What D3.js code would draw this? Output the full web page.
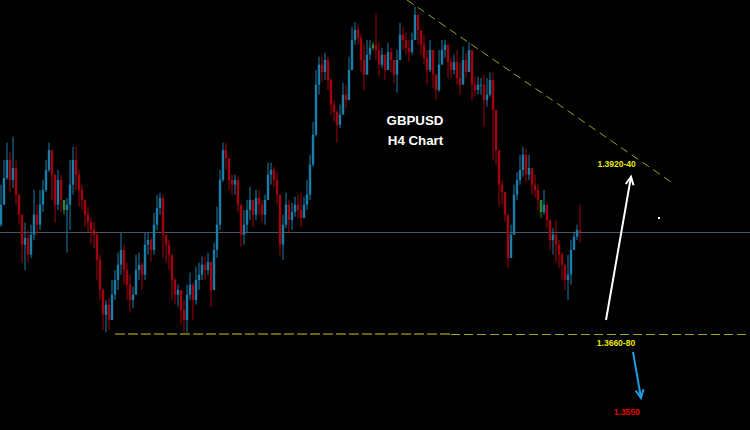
<!DOCTYPE html>
<html>
<head>
<meta charset="utf-8">
<script src="https://cdn.jsdelivr.net/npm/d3@7"></script>
<style>
  html, body { margin: 0; padding: 0; background: #000; }
  svg { display: block; }
</style>
</head>
<body>
<div id="chart"></div>
<script>
// ---- Data (GBPUSD H4) ----
const symbol = "GBPUSD";
const timeframeLabel = "H4 Chart";
const firstOpen = 1.3834;
const closes = [
  1.3864,1.3904,1.3931,1.3901,1.3919,1.3879,1.3849,1.3804,1.3814,1.3789,
  1.3819,1.3849,1.3834,1.3864,1.3886,1.3916,1.3946,1.3909,1.3864,1.3901,
  1.3871,1.3856,1.3864,1.3894,1.3931,1.3909,1.3886,1.3871,1.3849,1.3838,
  1.3826,1.3819,1.3781,1.3736,1.3699,1.3714,1.3691,1.3729,1.3751,1.3774,
  1.3796,1.3766,1.3744,1.3721,1.3729,1.3766,1.3774,1.3759,1.3804,1.3811,
  1.3796,1.3834,1.3859,1.3874,1.3819,1.3804,1.3789,1.3751,1.3729,1.3736,
  1.3706,1.3691,1.3729,1.3744,1.3721,1.3751,1.3759,1.3774,1.3766,1.3778,
  1.3736,1.3796,1.3834,1.3901,1.3946,1.3934,1.3901,1.3894,1.3901,1.3864,
  1.3819,1.3834,1.3856,1.3871,1.3849,1.3874,1.3864,1.3849,1.3871,1.3909,
  1.3916,1.3901,1.3879,1.3804,1.3834,1.3864,1.3841,1.3853,1.3864,1.3856,
  1.3844,1.3864,1.3879,1.3924,1.3969,1.4044,1.4074,1.4063,1.4081,1.4051,
  1.4014,1.4003,1.3984,1.3999,1.4029,1.4021,1.4066,1.4111,1.4126,1.4114,
  1.4081,1.4059,1.4089,1.4099,1.4104,1.4096,1.4074,1.4089,1.4066,1.4093,
  1.4081,1.4059,1.4081,1.4119,1.4111,1.4099,1.4093,1.4111,1.4149,1.4126,
  1.4104,1.4084,1.4066,1.4096,1.4059,1.4036,1.4074,1.4096,1.4104,1.4078,
  1.4066,1.4078,1.4054,1.4044,1.4081,1.4063,1.4096,1.4044,1.4036,1.4044,
  1.4044,1.4021,1.4029,1.4051,1.4006,1.3946,1.3894,1.3883,1.3849,1.3784,
  1.3819,1.3879,1.3901,1.3916,1.3939,1.3909,1.3919,1.3894,1.3886,1.3871,
  1.3853,1.3864,1.3841,1.3811,1.3819,1.3804,1.3789,1.3774,1.3751,1.3759,
  1.3796,1.3816,1.3826,1.3823
];
const highs = [
  1.3894,1.3931,1.3957,1.3943,1.3966,1.3931,1.3879,1.3849,1.3837,1.3826,
  1.3834,1.3886,1.3864,1.3886,1.3901,1.3931,1.3957,1.3946,1.3897,1.3916,
  1.3909,1.3864,1.3874,1.3931,1.3951,1.3951,1.3916,1.3894,1.3871,1.3861,
  1.3844,1.3838,1.3822,1.3789,1.3739,1.3721,1.3724,1.3751,1.3766,1.3792,
  1.3822,1.3804,1.3777,1.3759,1.3741,1.3789,1.3792,1.3777,1.3822,1.3822,
  1.3814,1.3852,1.3879,1.3882,1.3879,1.3819,1.3811,1.3777,1.3754,1.3744,
  1.3729,1.3721,1.3744,1.3762,1.3747,1.3771,1.3777,1.3786,1.3786,1.3792,
  1.3766,1.3807,1.3861,1.3916,1.3957,1.3957,1.3931,1.3909,1.3909,1.3906,
  1.3852,1.3856,1.3871,1.3891,1.3871,1.3886,1.3886,1.3871,1.3879,1.3927,
  1.3927,1.3921,1.3912,1.3871,1.3849,1.3882,1.3871,1.3867,1.3876,1.3879,
  1.3882,1.3876,1.3901,1.3939,1.3988,1.4066,1.4086,1.4086,1.4092,1.4086,
  1.4054,1.4021,1.4006,1.4014,1.4047,1.4044,1.4086,1.4131,1.4138,1.4134,
  1.4119,1.4104,1.4111,1.4111,1.4108,1.4152,1.4107,1.4099,1.4086,1.4107,
  1.4099,1.4078,1.4096,1.4137,1.4131,1.4122,1.4111,1.4122,1.4161,1.4144,
  1.4126,1.4119,1.4096,1.4111,1.4096,1.4051,1.4096,1.4111,1.4111,1.4099,
  1.4084,1.4089,1.4096,1.4077,1.4101,1.4092,1.4108,1.4074,1.4056,1.4056,
  1.4054,1.4059,1.4054,1.4062,1.4062,1.3961,1.3924,1.3901,1.3882,1.3814,
  1.3834,1.3894,1.3913,1.3939,1.3951,1.3949,1.3939,1.3916,1.3909,1.3894,
  1.3864,1.3886,1.3856,1.3834,1.3829,1.3841,1.3811,1.3793,1.3766,1.3789,
  1.3811,1.3823,1.3834,1.3864
];
const lows = [
  1.3831,1.3871,1.3901,1.3883,1.3889,1.3864,1.3834,1.3777,1.3766,1.3778,
  1.3784,1.3811,1.3819,1.3826,1.3853,1.3883,1.3913,1.3871,1.3837,1.3856,
  1.3853,1.3849,1.3792,1.3826,1.3879,1.3886,1.3861,1.3856,1.3831,1.3823,
  1.3804,1.3799,1.3751,1.3721,1.3676,1.3672,1.3676,1.3694,1.3721,1.3736,
  1.3759,1.3744,1.3721,1.3702,1.3709,1.3736,1.3751,1.3736,1.3751,1.3789,
  1.3778,1.3789,1.3826,1.3849,1.3784,1.3778,1.3766,1.3721,1.3714,1.3711,
  1.3684,1.3670,1.3672,1.3721,1.3691,1.3714,1.3736,1.3751,1.3751,1.3759,
  1.3711,1.3751,1.3784,1.3826,1.3898,1.3916,1.3886,1.3879,1.3879,1.3852,
  1.3801,1.3804,1.3822,1.3841,1.3831,1.3841,1.3849,1.3838,1.3834,1.3871,
  1.3894,1.3891,1.3864,1.3786,1.3781,1.3829,1.3822,1.3826,1.3846,1.3844,
  1.3831,1.3849,1.3856,1.3871,1.3921,1.3966,1.4029,1.4048,1.4051,1.4036,
  1.3999,1.3988,1.3957,1.3979,1.4006,1.4009,1.4029,1.4081,1.4104,1.4104,
  1.4063,1.4036,1.4066,1.4081,1.4096,1.4081,1.4056,1.4069,1.4051,1.4071,
  1.4062,1.4044,1.4032,1.4089,1.4096,1.4089,1.4078,1.4089,1.4119,1.4104,
  1.4089,1.4074,1.4044,1.4063,1.4039,1.4021,1.4033,1.4074,1.4084,1.4054,
  1.4054,1.4059,1.4044,1.4029,1.4063,1.4054,1.4069,1.4021,1.4026,1.4029,
  1.4029,1.3981,1.4011,1.4026,1.3931,1.3924,1.3861,1.3864,1.3838,1.3769,
  1.3796,1.3849,1.3871,1.3894,1.3906,1.3898,1.3901,1.3879,1.3874,1.3856,
  1.3844,1.3849,1.3829,1.3796,1.3789,1.3778,1.3769,1.3751,1.3736,1.3721,
  1.3744,1.3796,1.3811,1.3808
];
const dojiBars = [21, 124, 180];

// Annotation levels (index = bar position, p = price)
const supportLevel = 1.3670;
const supportStart = 38, supportSplit = 150, supportEnd = 250;
const trendline = [{i: 135.33, p: 1.4171}, {i: 223.67, p: 1.3897}];
const upArrow = [{i: 201.67, p: 1.3691}, {i: 210.0, p: 1.3906}];
const downArrow = [{i: 210.67, p: 1.3643}, {i: 213.33, p: 1.3574}];
const marker = {i: 219.33, p: 1.3844};
const labels = [
  {text: "1.3920-40", i: 205.2, p: 1.3920, color: "#e8e800"},
  {text: "1.3660-80", i: 205.0, p: 1.3652, color: "#e8e800"},
  {text: "1.3550",    i: 208.6, p: 1.3548, color: "#e80000"}
];

// ---- Chart ----
const W = 750, H = 430;
const svg = d3.select("#chart").append("svg").attr("width", W).attr("height", H)
  .style("background", "#000");
svg.append("rect").attr("width", W).attr("height", H).attr("fill", "#000");

const x = d3.scaleLinear().domain([0, 250]).range([1, 751]);
const y = d3.scaleLinear().domain([1.3526, 1.4171]).range([430, 0]);

const bars = closes.map((c, i) => {
  const o = i === 0 ? firstOpen : closes[i - 1];
  return {
    i, o, c,
    h: Math.max(highs[i], o, c),
    l: Math.min(lows[i], o, c),
    doji: dojiBars.includes(i)
  };
});
const UP = "#1a7ea9", DOWN = "#a4000e", DOJI = "#2a8c2a";
const col = d => d.doji ? DOJI : (d.c >= d.o ? UP : DOWN);

// current price line
svg.append("line")
  .attr("x1", 0).attr("x2", W)
  .attr("y1", Math.round(y(closes[closes.length - 1])) + 0.5)
  .attr("y2", Math.round(y(closes[closes.length - 1])) + 0.5)
  .attr("stroke", "#4a5562").attr("stroke-width", 1);

const g = svg.append("g");
g.selectAll("line.wick").data(bars).join("line")
  .attr("class", "wick")
  .attr("x1", d => x(d.i)).attr("x2", d => x(d.i))
  .attr("y1", d => y(d.h)).attr("y2", d => y(d.l))
  .attr("stroke", col).attr("stroke-width", 1);
g.selectAll("rect.body").data(bars).join("rect")
  .attr("class", "body")
  .attr("x", d => x(d.i) - 1.2).attr("width", 2.4)
  .attr("y", d => y(Math.max(d.o, d.c)))
  .attr("height", d => Math.max(1, Math.abs(y(d.o) - y(d.c))))
  .attr("fill", col);

// support dashed line
svg.append("line")
  .attr("x1", x(supportStart)).attr("x2", x(supportSplit))
  .attr("y1", y(supportLevel)).attr("y2", y(supportLevel))
  .attr("stroke", "#66660f").attr("stroke-width", 2).attr("stroke-dasharray", "10,3");
svg.append("line")
  .attr("x1", x(supportSplit)).attr("x2", x(supportEnd))
  .attr("y1", Math.round(y(supportLevel)) + 0.5).attr("y2", Math.round(y(supportLevel)) + 0.5)
  .attr("stroke", "#a4a42a").attr("stroke-width", 1).attr("stroke-dasharray", "9,4");

// trendline
svg.append("line")
  .attr("x1", x(trendline[0].i)).attr("y1", y(trendline[0].p))
  .attr("x2", x(trendline[1].i)).attr("y2", y(trendline[1].p))
  .attr("stroke", "#a0a020").attr("stroke-width", 1).attr("stroke-dasharray", "8,5");

// arrows
function arrow(pts, color) {
  const x1 = x(pts[0].i), y1 = y(pts[0].p), x2 = x(pts[1].i), y2 = y(pts[1].p);
  const ang = Math.atan2(y2 - y1, x2 - x1);
  const L = 9, spread = 0.45;
  svg.append("line").attr("x1", x1).attr("y1", y1).attr("x2", x2).attr("y2", y2)
    .attr("stroke", color).attr("stroke-width", 2);
  const p1 = [x2 - L * Math.cos(ang - spread), y2 - L * Math.sin(ang - spread)];
  const p2 = [x2 - L * Math.cos(ang + spread), y2 - L * Math.sin(ang + spread)];
  svg.append("path")
    .attr("d", `M${p1[0]},${p1[1]} L${x2},${y2} L${p2[0]},${p2[1]}`)
    .attr("fill", "none").attr("stroke", color).attr("stroke-width", 2)
    .attr("stroke-linejoin", "miter");
}
arrow(upArrow, "#ffffff");
arrow(downArrow, "#1e9ee0");

// small marker
svg.append("rect").attr("x", x(marker.i) - 1).attr("y", y(marker.p) - 1)
  .attr("width", 2).attr("height", 2).attr("fill", "#fff");

// labels
svg.selectAll("text.lvl").data(labels).join("text")
  .attr("class", "lvl")
  .attr("x", d => x(d.i)).attr("y", d => y(d.p))
  .attr("text-anchor", "middle")
  .attr("font-family", "Liberation Sans, Arial, sans-serif")
  .attr("font-weight", "bold").attr("font-size", 8.5)
  .attr("fill", d => d.color)
  .text(d => d.text);

// title
svg.append("text").attr("x", 415).attr("y", 124.5).attr("text-anchor", "middle")
  .attr("font-family", "Liberation Sans, Arial, sans-serif").attr("font-weight", "bold")
  .attr("font-size", 13.3).attr("fill", "#fff").text(symbol);
svg.append("text").attr("x", 415.5).attr("y", 144.5).attr("text-anchor", "middle")
  .attr("font-family", "Liberation Sans, Arial, sans-serif").attr("font-weight", "bold")
  .attr("font-size", 13.3).attr("fill", "#fff").text(timeframeLabel);
</script>
</body>
</html>
